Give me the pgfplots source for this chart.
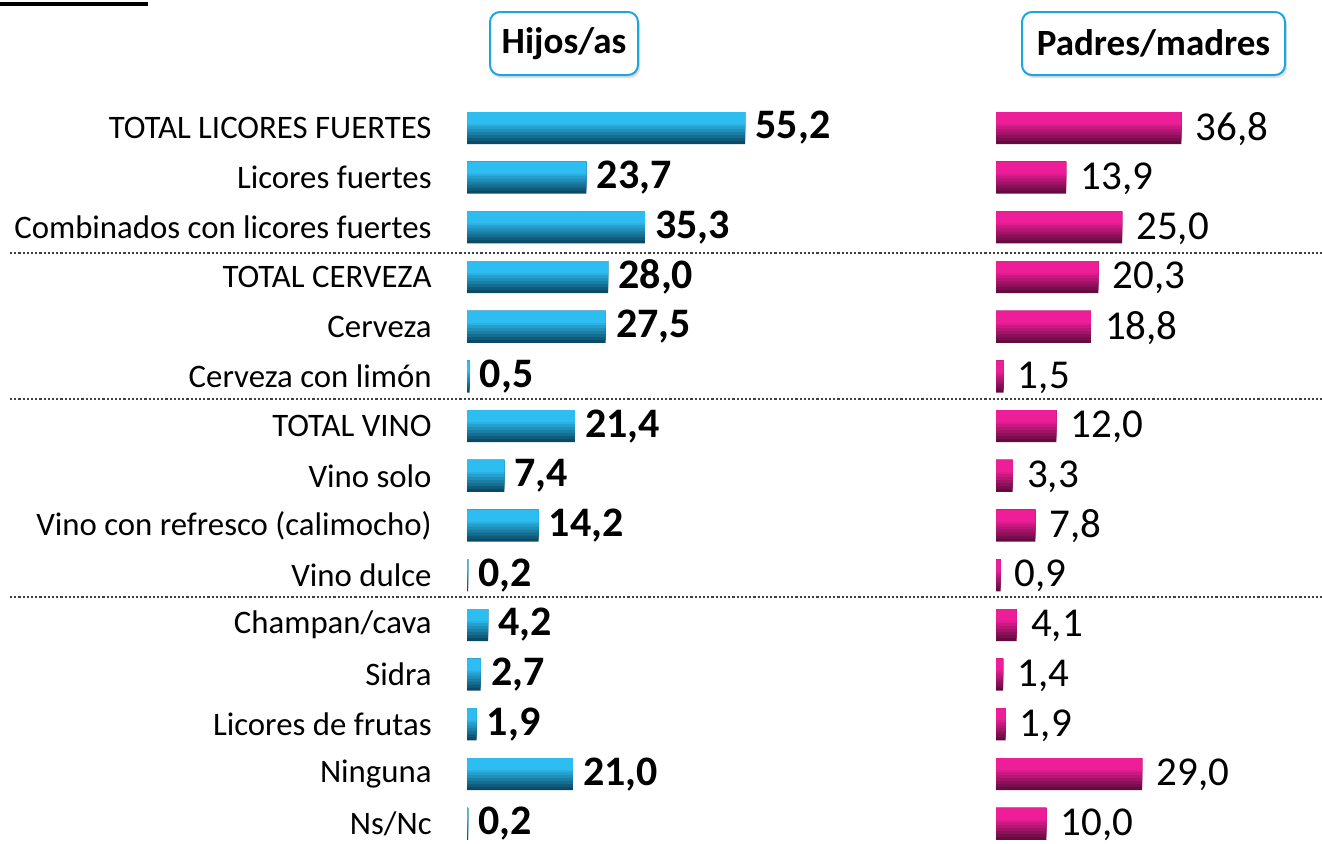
\documentclass[border=0pt]{standalone}
\usepackage{fontspec}
\setmainfont{Carlito}
\usepackage{pgfplots}
\usepackage{pgfplotstable}
\pgfplotsset{compat=1.18}
\usetikzlibrary{shadows}

\definecolor{blueL}{HTML}{2EBDF0}
\definecolor{blueD}{HTML}{0B4A66}
\definecolor{pinkL}{HTML}{EE1E98}
\definecolor{pinkD}{HTML}{640B40}
\definecolor{boxline}{HTML}{1CA6DD}

% row, hijos value, hijos label, padres value, padres label
\pgfplotstableread{
y hv hl pv pl
0 55.2 55,2 36.8 36,8
1 23.7 23,7 13.9 13,9
2 35.3 35,3 25.0 25,0
3 28.0 28,0 20.3 20,3
4 27.5 27,5 18.8 18,8
5 0.5 0,5 1.5 1,5
6 21.4 21,4 12.0 12,0
7 7.4 7,4 3.3 3,3
8 14.2 14,2 7.8 7,8
9 0.2 0,2 0.9 0,9
10 4.2 4,2 4.1 4,1
11 2.7 2,7 1.4 1,4
12 1.9 1,9 1.9 1,9
13 21.0 21,0 29.0 29,0
14 0.2 0,2 10.0 10,0
}\datatable

\pgfplotsset{
  panel/.style={
    scale only axis, width=151.2pt, height=372.75pt,
    xmin=0, xmax=60, ymin=-0.5, ymax=14.5, y dir=reverse,
    enlargelimits=false, axis line style={draw=none}, clip=false,
    xtick=\empty, ytick={0,...,14},
    major tick length=0pt, tick style={draw=none},
    xbar, bar width=16pt,
  },
}

\begin{document}
\begin{tikzpicture}
\path[use as bounding box] (0,0) rectangle (661pt,-421.5pt);

% hijos/as
\begin{axis}[panel, at={(233.5pt,-51.57pt)}, anchor=north west,
    yticklabels={TOTAL LICORES FUERTES, Licores fuertes, Combinados con licores fuertes,
      TOTAL CERVEZA, Cerveza, Cerveza con limón, TOTAL VINO, Vino solo,
      Vino con refresco (calimocho), Vino dulce, Champan/cava, Sidra,
      Licores de frutas, Ninguna, Ns/Nc},
    yticklabel style={font=\fontsize{16.4}{18}\selectfont, anchor=east, inner sep=0pt, xshift=-17.5pt},
  ]
  % stacked strips give each bar its cylinder shading
  \pgfplotsinvokeforeach{0,15,30,45,60,75,90,100}{
    \addplot[draw=none, fill=blueL!#1!blueD, bar width={16pt-0.1pt*#1}, bar shift={0.05pt*#1}]
      table[x=hv, y=y] {\datatable};
  }
  \addplot[draw=none, fill=none, bar shift=0pt, point meta=explicit symbolic, nodes near coords,
      nodes near coords style={text=black, font=\fontsize{21}{24}\selectfont\bfseries,
      anchor=west, inner sep=0pt, xshift=5pt}]
    table[x=hv, y=y, meta=hl] {\datatable};
\end{axis}

% padres/madres
\begin{axis}[panel, at={(498pt,-51.57pt)}, anchor=north west, yticklabels={}]
  \pgfplotsinvokeforeach{0,15,30,45,60,75,90,100}{
    \addplot[draw=none, fill=pinkL!#1!pinkD, bar width={16pt-0.1pt*#1}, bar shift={0.05pt*#1}]
      table[x=pv, y=y] {\datatable};
  }
  \addplot[draw=none, fill=none, bar shift=0pt, point meta=explicit symbolic, nodes near coords,
      nodes near coords style={text=black, font=\fontsize{20.5}{24}\selectfont,
      anchor=west, inner sep=0pt, xshift=7pt, yshift=-0.5pt}]
    table[x=pv, y=y, meta=pl] {\datatable};
\end{axis}

% top rule
\draw[line width=2pt, black] (0,-2pt) -- (74pt,-2pt);

% group separators
\foreach \yy in {-126.5pt,-199.5pt,-298.5pt}
  \draw[gray!50!black, line width=1.1pt, dash pattern=on 1.1pt off 1pt] (5pt,\yy) -- (661pt,\yy);

% panel headers
\draw[boxline, line width=1pt, fill=white, rounded corners=5pt,
  drop shadow={opacity=0.25, shadow xshift=1pt, shadow yshift=-1.5pt}]
  (245pt,-6pt) rectangle (319pt,-37.5pt);
\node[font=\fontsize{18.5}{22}\selectfont\bfseries] at (282pt,-21.75pt) {Hijos/as};
\draw[boxline, line width=1pt, fill=white, rounded corners=5pt,
  drop shadow={opacity=0.25, shadow xshift=1pt, shadow yshift=-1.5pt}]
  (511pt,-6pt) rectangle (642.5pt,-37.5pt);
\node[font=\fontsize{18.5}{22}\selectfont\bfseries] at (576.75pt,-21.75pt) {Padres/madres};
\end{tikzpicture}
\end{document}
